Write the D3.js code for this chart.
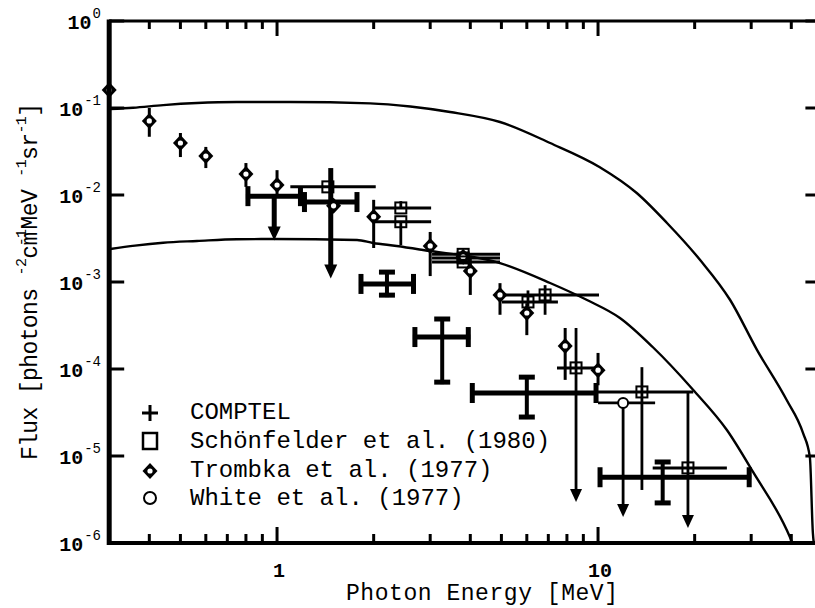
<!DOCTYPE html>
<html><head><meta charset="utf-8">
<script src="https://cdn.jsdelivr.net/npm/d3@7"></script>
<style>body{margin:0;background:#fff} svg{display:block}</style>
</head><body>
<svg id="c" width="815" height="608"></svg>
<script>
// ---------- axis data ----------
const xMajorTicks = [1, 10];
const xTickLabels = ["1", "10"];
const xMinorTicks = [0.4,0.5,0.6,0.7,0.8,0.9,2,3,4,5,6,7,8,9,20,30,40];
const yExponents = [0,-1,-2,-3,-4,-5,-6];

// ---------- COMPTEL ----------
const comptelE   = [0.98, 1.47, 2.2, 3.27, 6.0, 15.9];
const comptelLo  = [0.8, 1.2, 1.8, 2.65, 4.0, 10];
const comptelHi  = [1.2, 1.8, 2.7, 4.0, 10, 30];
const comptelF   = [9.7e-3, 8.3e-3, 9.5e-4, 2.33e-4, 5.3e-5, 5.7e-6];
const comptelFup = [9.7e-3, 2.04e-2, 1.37e-3, 3.96e-4, 8.5e-5, 9.0e-6];
const comptelFdn = [3.0e-3, 1.1e-3, 6.7e-4, 6.7e-5, 2.66e-5, 2.74e-6];
const comptelLimit = [true, true, false, false, false, false];

// ---------- Schönfelder et al. (1980) ----------
const schE   = [1.44, 2.43, 2.43, 3.8, 3.8, 3.8, 6.84, 6.05, 8.54, 13.7, 19.06];
const schLo  = [1.10, 1.99, 1.99, 3.04, 3.04, 3.04, 5.02, 5.02, 7.45, 10.0, 14.8];
const schHi  = [2.03, 3.02, 3.02, 4.95, 4.95, 4.95, 10.07, 7.5, 10.1, 19.8, 25.2];
const schF   = [0.0124, 7.1e-3, 4.93e-3, 2.08e-3, 1.89e-3, 1.70e-3, 7.1e-4, 5.9e-4, 1.03e-4, 5.45e-5, 7.3e-6];
const schFup = [0.0124, 8.5e-3, 4.93e-3, 2.08e-3, 1.89e-3, 1.70e-3, 9.2e-4, 8.0e-4, 2.96e-4, 1.05e-4, 5.3e-5];
const schFdn = [0.0124, 7.1e-3, 2.66e-3, 2.08e-3, 1.89e-3, 1.70e-3, 4.2e-4, 5.2e-4, 2.96e-6, 4.07e-6, 1.49e-6];
const schLimit = [false,false,false,false,false,false,false,false,true,false,true];

// ---------- Trombka et al. (1977) ----------
const trE   = [0.30, 0.40, 0.50, 0.60, 0.80, 1.0, 1.5, 2.0, 3.0, 3.8, 4.0, 4.95, 6.0, 7.9, 10.0];
const trF   = [0.161, 0.071, 0.0396, 0.028, 0.0174, 0.013, 7.5e-3, 5.64e-3, 2.6e-3, 1.95e-3, 1.34e-3, 7.1e-4, 4.4e-4, 1.84e-4, 9.7e-5];
const trFup = [0.161, 0.100, 0.0516, 0.0357, 0.0233, 0.0193, 7.5e-3, 8.8e-3, 3.76e-3, 1.95e-3, 2.0e-3, 9.7e-4, 5.7e-4, 2.96e-4, 1.53e-4];
const trFdn = [0.161, 0.0467, 0.0273, 0.0204, 0.0124, 0.0097, 7.5e-3, 2.46e-3, 1.17e-3, 1.95e-3, 7.1e-4, 4.2e-4, 2.45e-4, 7.5e-5, 6.5e-5];

// ---------- White et al. (1977) ----------
const whE   = [11.97];
const whLo  = [10.0];
const whHi  = [15.06];
const whF   = [4.07e-5];
const whFdn = [1.99e-6];

// ---------- model curves ----------
const upperE = [0.302,0.356,0.442,0.563,0.75,1.1,1.95,2.6,3.46,4.95,7.09,10.1,13.2,16.4,20.8,25.8,31.3,38.7,43.5,45.7,46.7,47.0];
const upperF = [0.0975,0.1007,0.108,0.114,0.117,0.117,0.113,0.104,0.090,0.069,0.0396,0.021,0.01054,4.77e-3,1.79e-3,6.21e-4,1.65e-4,4.4e-5,1.84e-5,9.7e-6,1.3e-6,1e-6];
const lowerE = [0.302,0.361,0.442,0.563,0.75,0.972,1.775,1.99,2.36,2.85,4.95,7.09,9.24,11.7,14.8,19.8,25.2,30.4,39.6,40.3];
const lowerF = [2.39e-3,2.62e-3,2.83e-3,2.96e-3,3.10e-3,3.12e-3,3.04e-3,2.81e-3,2.59e-3,2.33e-3,1.65e-3,9.74e-4,6.21e-4,3.86e-4,1.79e-4,5.74e-5,1.99e-5,6.55e-6,1.17e-6,1e-6];

const legendLabels = ["COMPTEL", "Schönfelder et al. (1980)", "Trombka et al. (1977)", "White et al. (1977)"];

// ---------- drawing ----------
const svg = d3.select("#c");
const x = d3.scaleLog().domain([0.3, 50]).range([109.2, 822.4]);
const y = d3.scaleLog().domain([1e-6, 1]).range([543, 21]);
const FONT = "'Liberation Mono','Courier New',monospace";
const X0 = x.range()[0], X1 = x.range()[1], Y0 = y.range()[0], Y1 = y.range()[1];

svg.append("defs").append("clipPath").attr("id","pc")
  .append("rect").attr("x",X0).attr("y",Y1).attr("width",X1-X0).attr("height",Y0-Y1);

// curves
const line = d3.line().x(d=>x(d[0])).y(d=>y(d[1])).curve(d3.curveMonotoneX);
const gc = svg.append("g").attr("clip-path","url(#pc)");
gc.append("path").datum(d3.zip(upperE, upperF)).attr("d", line)
  .attr("fill","none").attr("stroke","#000").attr("stroke-width",2.4);
gc.append("path").datum(d3.zip(lowerE, lowerF)).attr("d", line)
  .attr("fill","none").attr("stroke","#000").attr("stroke-width",2.4);

const g = svg.append("g");
function ln(x1,y1,x2,y2,w){ g.append("line").attr("x1",x1).attr("y1",y1).attr("x2",x2).attr("y2",y2).attr("stroke","#000").attr("stroke-width",w); }
function arrow(cx, tipY, w, h){
  g.append("path").attr("d",`M${cx-w/2},${tipY-h}L${cx+w/2},${tipY-h}L${cx},${tipY}Z`).attr("fill","#000");
}

// Schönfelder
schE.forEach((e,i)=>{
  const cx = x(e), cy = y(schF[i]);
  ln(x(schLo[i]), cy, x(schHi[i]), cy, 3);
  if (schFup[i] !== schFdn[i]) {
    const yb = y(schFdn[i]);
    ln(cx, y(schFup[i]), cx, schLimit[i] ? yb-6 : yb, 2.8);
    if (schLimit[i]) arrow(cx, yb, 12, 13);
  }
});
// White
whE.forEach((e,i)=>{
  const cx = x(e), cy = y(whF[i]);
  ln(x(whLo[i]), cy, x(whHi[i]), cy, 2.8);
  const yb = y(whFdn[i]);
  ln(cx, cy, cx, yb-6, 2.8);
  arrow(cx, yb, 12, 13);
});
// COMPTEL
comptelE.forEach((e,i)=>{
  const cx = x(e), cy = y(comptelF[i]);
  const xl = x(comptelLo[i]), xr = x(comptelHi[i]);
  ln(xl, cy, xr, cy, 5);
  ln(xl+2, cy-10, xl+2, cy+10, 5);
  ln(xr-2, cy-10, xr-2, cy+10, 5);
  const yt = y(comptelFup[i]), yb = y(comptelFdn[i]);
  const w = comptelLimit[i] ? 5 : 4;
  ln(cx, yt, cx, comptelLimit[i] ? yb-8 : yb, w);
  if (!comptelLimit[i]) {
    ln(cx-8, yt+2, cx+8, yt+2, 5);
    ln(cx-8, yb-2, cx+8, yb-2, 5);
  } else {
    arrow(cx, yb, 13, 14);
  }
});
// Trombka
trE.forEach((e,i)=>{
  const cx = x(e);
  if (trFup[i] !== trFdn[i]) ln(cx, y(trFup[i]), cx, y(trFdn[i]), 3);
});
function diamond(cx, cy){
  g.append("path").attr("d",`M${cx},${cy-8}L${cx+7.5},${cy}L${cx},${cy+8}L${cx-7.5},${cy}Z`).attr("fill","#000");
  g.append("circle").attr("cx",cx).attr("cy",cy).attr("r",2.6).attr("fill","#fff");
}
function square(cx, cy, s){
  g.append("rect").attr("x",cx-s/2).attr("y",cy-s/2).attr("width",s).attr("height",s)
   .attr("fill","none").attr("stroke","#000").attr("stroke-width",2);
}
function circ(cx, cy, r){
  g.append("circle").attr("cx",cx).attr("cy",cy).attr("r",r).attr("fill","#fff").attr("stroke","#000").attr("stroke-width",2);
}
function plus(cx, cy){
  ln(cx-8, cy, cx+8, cy, 3); ln(cx, cy-8, cx, cy+8, 3);
}
trE.forEach((e,i)=> diamond(x(e), y(trF[i])));
schE.forEach((e,i)=> square(x(e), y(schF[i]), 11));
whE.forEach((e,i)=> circ(x(e), y(whF[i]), 5));

// ---------- axes ----------
const ax = svg.append("g");
function aln(x1,y1,x2,y2,w){ ax.append("line").attr("x1",x1).attr("y1",y1).attr("x2",x2).attr("y2",y2).attr("stroke","#000").attr("stroke-width",w); }
aln(X0, Y1, X1, Y1, 3);
aln(X0, Y0, X1, Y0, 4);
aln(X0, Y1-1.5, X0, Y0+2, 5);
aln(X1, Y1, X1, Y0, 4);
xMinorTicks.forEach(v=>{ aln(x(v), Y0, x(v), Y0-9, 3); aln(x(v), Y1, x(v), Y1+8, 3); });
xMajorTicks.forEach(v=>{ aln(x(v), Y0, x(v), Y0-16, 3); aln(x(v), Y1, x(v), Y1+15, 3); });
yExponents.forEach(p=>{ const v=Math.pow(10,p); aln(X0, y(v), X0+15, y(v), 3); aln(X1, y(v), X1-17, y(v), 3); });

// tick labels
xMajorTicks.forEach((v,i)=>{
  ax.append("text").attr("x", x(v)+2).attr("y", 577).attr("text-anchor","middle")
    .attr("font-family",FONT).attr("font-size",20).attr("font-weight","bold").text(xTickLabels[i]);
});
yExponents.forEach(p=>{
  const yy = y(Math.pow(10,p));
  const sup = ax.append("text").attr("x", 101).attr("y", yy-3).attr("text-anchor","end")
    .attr("font-family",FONT).attr("font-size",14).text(String(p));
  const sw = sup.node().getComputedTextLength();
  ax.append("text").attr("x", 101 - sw - 1).attr("y", yy+8).attr("text-anchor","end")
    .attr("font-family",FONT).attr("font-size",20).attr("font-weight","bold").text("10");
});

// axis titles
ax.append("text").attr("x", 346).attr("y", 600)
  .attr("font-family",FONT).attr("font-size",23)
  .attr("textLength",272).attr("lengthAdjust","spacing").text("Photon Energy [MeV]");

const yl = ax.append("text").attr("transform","translate(37,460) rotate(-90)")
  .attr("font-family",FONT).attr("font-size",23);
yl.append("tspan").text("Flux [photons ");
yl.append("tspan").attr("dy",-11).attr("font-size",15).text("-2");
yl.append("tspan").attr("dy",11).text("cm");
yl.append("tspan").attr("dy",-11).attr("font-size",15).attr("dx",-14).text("-1");
yl.append("tspan").attr("dy",11).text("MeV ");
yl.append("tspan").attr("dy",-11).attr("font-size",15).text("-1");
yl.append("tspan").attr("dy",11).text("sr");
yl.append("tspan").attr("dy",-11).attr("font-size",15).text("-1");
yl.append("tspan").attr("dy",11).text("]");
yl.attr("textLength",357).attr("lengthAdjust","spacing");

// ---------- legend ----------
const legY = [419, 448, 477, 505];
legendLabels.forEach((t,i)=>{
  ax.append("text").attr("x",190).attr("y",legY[i]).attr("font-family",FONT).attr("font-size",24).text(t);
});
plus(150, legY[0]-6);
g.append("rect").attr("x",143).attr("y",legY[1]-15).attr("width",14).attr("height",16)
  .attr("fill","none").attr("stroke","#000").attr("stroke-width",2.5);
diamond(150, legY[2]-6);
circ(150, legY[3]-7, 6);
</script>
</body></html>
